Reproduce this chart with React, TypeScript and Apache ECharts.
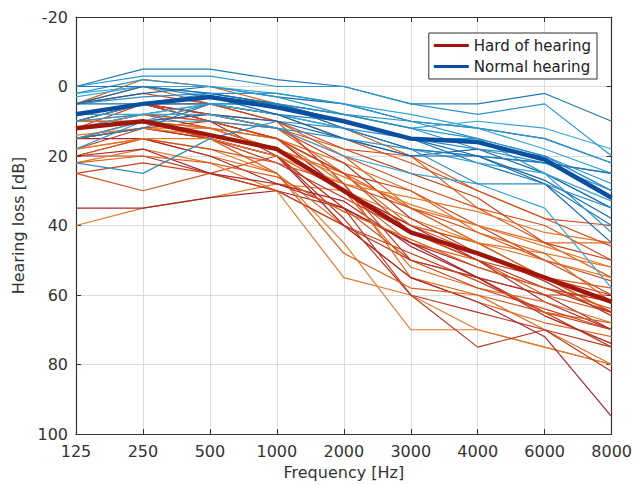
import React, { useEffect, useRef } from "react";
import * as echarts from "echarts";

const frequencies = ["125", "250", "500", "1000", "2000", "3000", "4000", "6000", "8000"];
const yTicks = [-20, 0, 20, 40, 60, 80, 100];

const hardOfHearingMean = [12, 10, 14, 18, 30, 42, 48, 55, 62];
const normalHearingMean = [8, 5, 3, 6, 10, 15, 16, 21, 32];

const hardOfHearing: number[][] = [
  [10, 5, 10, 15, 30, 45, 50, 60, 65],
  [15, 10, 15, 20, 35, 50, 55, 65, 75],
  [40, 35, 32, 28, 30, 40, 45, 50, 55],
  [35, 35, 32, 30, 35, 45, 55, 60, 70],
  [25, 30, 25, 20, 30, 40, 48, 55, 65],
  [20, 15, 20, 25, 40, 55, 60, 70, 80],
  [10, 10, 15, 20, 35, 60, 65, 70, 75],
  [5, 0, 5, 10, 20, 35, 45, 55, 65],
  [12, 8, 12, 15, 25, 30, 40, 50, 60],
  [18, 15, 18, 25, 45, 70, 70, 75, 80],
  [15, 12, 10, 15, 30, 40, 50, 62, 70],
  [8, 5, 8, 12, 20, 28, 35, 40, 50],
  [10, 10, 12, 18, 25, 35, 40, 45, 45],
  [20, 20, 25, 30, 40, 50, 55, 60, 60],
  [5, -2, 0, 5, 12, 20, 35, 45, 55],
  [12, 5, 8, 10, 18, 25, 32, 45, 50],
  [22, 18, 22, 30, 55, 60, 70, 75, 80],
  [15, 15, 20, 28, 35, 45, 52, 58, 65],
  [8, 5, 5, 8, 15, 22, 30, 38, 40],
  [10, 8, 10, 15, 28, 55, 62, 68, 72],
  [18, 12, 15, 22, 32, 42, 50, 58, 62],
  [12, 10, 8, 12, 25, 40, 45, 55, 58],
  [25, 22, 25, 30, 40, 48, 56, 65, 70],
  [15, 10, 12, 18, 30, 38, 45, 48, 52],
  [10, 5, 10, 20, 40, 55, 62, 72, 95],
  [20, 15, 18, 22, 28, 35, 42, 50, 56],
  [10, 10, 12, 15, 22, 30, 42, 48, 62],
  [15, 12, 15, 20, 38, 60, 75, 70, 82],
  [12, 10, 15, 25, 48, 58, 60, 65, 68],
  [8, 5, 10, 15, 25, 42, 50, 55, 60],
  [18, 15, 15, 20, 28, 32, 36, 42, 45],
  [20, 18, 25, 28, 33, 46, 55, 66, 74],
  [12, 8, 10, 12, 18, 20, 30, 38, 46],
  [15, 12, 12, 18, 30, 52, 58, 62, 68],
  [10, 5, 8, 12, 22, 38, 48, 56, 66],
  [22, 20, 22, 26, 36, 44, 52, 58, 64],
  [5, 2, 5, 10, 28, 50, 58, 64, 70],
  [14, 12, 14, 18, 26, 34, 40, 46, 52],
];

const normalHearing: number[][] = [
  [0, -5, -5, -2, 0, 5, 5, 2, 10],
  [0, -3, -3, 0, 0, 5, 8, 5, 20],
  [2, 0, 2, 5, 8, 12, 10, 12, 18],
  [5, 2, 0, 3, 5, 10, 12, 15, 22],
  [22, 25, 15, 10, 12, 15, 18, 20, 30],
  [8, 5, 5, 8, 12, 18, 20, 22, 25],
  [10, 8, 5, 5, 10, 15, 15, 20, 28],
  [3, 0, 0, 2, 5, 8, 12, 18, 25],
  [12, 10, 8, 10, 15, 20, 18, 25, 35],
  [5, 3, 2, 5, 8, 10, 15, 20, 30],
  [15, 12, 5, 8, 10, 15, 22, 28, 40],
  [2, -2, 0, 3, 8, 12, 15, 25, 42],
  [8, 8, 5, 8, 12, 18, 22, 25, 33],
  [5, 0, 2, 5, 10, 15, 20, 27, 38],
  [18, 10, 5, 5, 8, 12, 18, 22, 30],
  [0, 0, 3, 5, 12, 18, 20, 22, 25],
  [10, 5, 2, 2, 5, 10, 12, 15, 22],
  [12, 8, 8, 12, 20, 25, 28, 35, 58],
  [5, 5, 3, 8, 15, 20, 20, 28, 45],
  [15, 10, 10, 12, 15, 18, 28, 28, 35],
];

const hohPalette = ["#d95f1a", "#c8441c", "#e27a2c", "#a8262e", "#d25320", "#e06a22", "#b93822"];
const nhPalette = ["#1f7ab8", "#2a96cc", "#3aa6d6", "#1668a8", "#2f8fc4"];

const FONT = "DejaVu Sans";

export default function App() {
  const ref = useRef<HTMLDivElement>(null);
  useEffect(() => {
    document.body.style.margin = "0";
    const chart = echarts.init(ref.current!, null, { renderer: "svg" });
    const series: any[] = [];
    hardOfHearing.forEach((d, i) =>
      series.push({
        name: "hoh" + i,
        type: "line",
        data: d,
        symbol: "none",
        silent: true,
        lineStyle: { width: 1.2, color: hohPalette[i % hohPalette.length] },
      })
    );
    normalHearing.forEach((d, i) =>
      series.push({
        name: "nh" + i,
        type: "line",
        data: d,
        symbol: "none",
        silent: true,
        lineStyle: { width: 1.2, color: nhPalette[i % nhPalette.length] },
      })
    );
    series.push({
      name: "Hard of hearing",
      type: "line",
      data: hardOfHearingMean,
      symbol: "none",
      itemStyle: { color: "#a0150c" },
      lineStyle: { width: 4.5, color: "#a0150c" },
    });
    series.push({
      name: "Normal hearing",
      type: "line",
      data: normalHearingMean,
      symbol: "none",
      itemStyle: { color: "#0a4fa0" },
      lineStyle: { width: 4.5, color: "#0a4fa0" },
    });

    const axisLine = { show: true, onZero: false, lineStyle: { color: "#333", width: 1.2 } };
    const split = { show: true, lineStyle: { color: "#dcdcdc", width: 1 } };
    chart.setOption({
      animation: false,
      backgroundColor: "#fff",
      textStyle: { fontFamily: FONT },
      grid: { left: 76, right: 22, top: 17, bottom: 51 },
      legend: {
        data: ["Hard of hearing", "Normal hearing"],
        orient: "vertical",
        right: 38,
        top: 33,
        icon: "rect",
        itemWidth: 35,
        itemHeight: 3,
        itemGap: 6,
        padding: [5, 6, 5, 5],
        borderColor: "#333",
        borderWidth: 1,
        backgroundColor: "#fff",
        borderRadius: 0,
        textStyle: { fontFamily: FONT, fontSize: 15, color: "#222" },
      },
      xAxis: [
        {
          type: "category",
          data: frequencies,
          boundaryGap: false,
          name: "Frequency [Hz]",
          nameLocation: "middle",
          nameGap: 30,
          nameTextStyle: { fontFamily: FONT, fontSize: 16, color: "#333" },
          axisLine,
          axisTick: { show: true, inside: true, length: 5, lineStyle: { color: "#333" } },
          axisLabel: { fontFamily: FONT, fontSize: 16, color: "#333", margin: 9 },
          splitLine: split,
        },
        {
          type: "category",
          data: frequencies,
          boundaryGap: false,
          position: "top",
          axisLine,
          axisTick: { show: true, inside: true, length: 5, lineStyle: { color: "#333" } },
          axisLabel: { show: false },
          splitLine: { show: false },
        },
      ],
      yAxis: [
        {
          type: "value",
          inverse: true,
          min: -20,
          max: 100,
          interval: 20,
          name: "Hearing loss [dB]",
          nameLocation: "middle",
          nameGap: 40,
          nameTextStyle: { fontFamily: FONT, fontSize: 16, color: "#333" },
          axisLine,
          axisTick: { show: true, inside: true, length: 5, lineStyle: { color: "#333" } },
          axisLabel: {
            fontFamily: FONT,
            fontSize: 16,
            color: "#333",
            margin: 8,
            formatter: (v: number) => (yTicks.includes(v) ? String(v) : ""),
          },
          splitLine: split,
        },
        {
          type: "value",
          inverse: true,
          min: -20,
          max: 100,
          interval: 20,
          position: "right",
          axisLine,
          axisTick: { show: true, inside: true, length: 5, lineStyle: { color: "#333" } },
          axisLabel: { show: false },
          splitLine: { show: false },
        },
      ],
      series,
    });
    return () => chart.dispose();
  }, []);
  return <div ref={ref} style={{ width: 635, height: 485 }} />;
}
